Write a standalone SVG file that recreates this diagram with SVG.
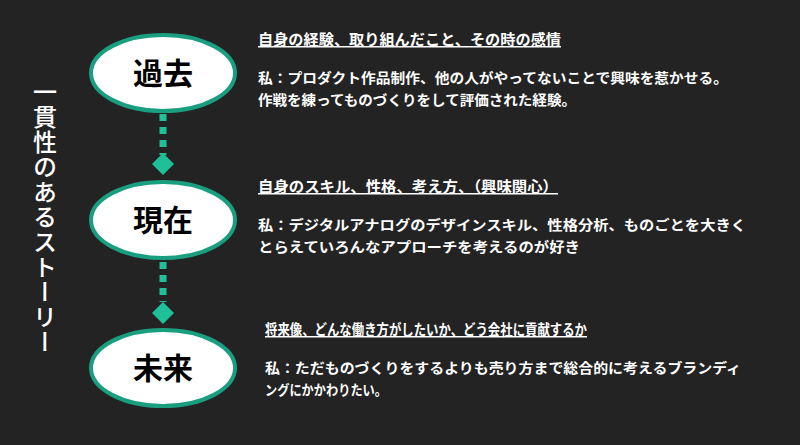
<svg xmlns="http://www.w3.org/2000/svg" width="800" height="445" viewBox="0 0 800 445">
<style>
.n ellipse{fill:#fff;stroke:#1a9e80;stroke-width:4}
.n text{font-family:"Noto Sans CJK JP","Noto Sans",sans-serif;font-size:30px;font-weight:bold;fill:#000;text-anchor:middle}
.h{font-family:"Noto Sans CJK JP",sans-serif;font-size:15px;font-weight:bold;fill:#fff;text-decoration:underline}
.b{font-family:"Noto Sans CJK JP",sans-serif;font-size:14px;font-weight:bold;fill:#fff}
.c line{stroke:#1fbf97;stroke-width:7;stroke-dasharray:7 6}
.c path{fill:#1fbf97}
</style>
<rect width="800" height="445" fill="#232323"/>
<text x="45" y="80" style="writing-mode:vertical-rl;font-family:'Noto Sans CJK JP',sans-serif;font-size:24px;font-weight:500;fill:#fff;letter-spacing:1px">一貫性のあるストーリー</text>
<g class="c">
<line x1="163" y1="114" x2="163" y2="155"/><path d="M163 153 L174 164 L163 175 L152 164Z"/>
<line x1="163" y1="262" x2="163" y2="302"/><path d="M163 302 L174 313 L163 324 L152 313Z"/>
</g>
<g id="kako" class="n"><ellipse cx="163" cy="73" rx="72" ry="38"/><text x="163" y="84">過去</text></g>
<g id="genzai" class="n"><ellipse cx="163" cy="220" rx="72" ry="38"/><text x="163" y="231">現在</text></g>
<g id="mirai" class="n"><ellipse cx="163" cy="368" rx="72" ry="38"/><text x="163" y="379">未来</text></g>
<text class="h" x="258" y="45" textLength="303" lengthAdjust="spacingAndGlyphs">自身の経験、取り組んだこと、その時の感情</text>
<text class="b" x="258" y="83" textLength="470" lengthAdjust="spacingAndGlyphs">私：プロダクト作品制作、他の人がやってないことで興味を惹かせる。</text>
<text class="b" x="258" y="105" textLength="318" lengthAdjust="spacingAndGlyphs">作戦を練ってものづくりをして評価された経験。</text>
<text class="h" x="258" y="192" textLength="300" lengthAdjust="spacingAndGlyphs">自身のスキル、性格、考え方、（興味関心）</text>
<text class="b" x="258" y="230" textLength="488" lengthAdjust="spacingAndGlyphs">私：デジタルアナログのデザインスキル、性格分析、ものごとを大きく</text>
<text class="b" x="258" y="252" textLength="322" lengthAdjust="spacingAndGlyphs">とらえていろんなアプローチを考えるのが好き</text>
<text class="h" x="265" y="335" textLength="322" lengthAdjust="spacingAndGlyphs">将来像、どんな働き方がしたいか、どう会社に貢献するか</text>
<text class="b" x="265" y="373" textLength="476" lengthAdjust="spacingAndGlyphs">私：ただものづくりをするよりも売り方まで総合的に考えるブランディ</text>
<text class="b" x="265" y="395" textLength="122" lengthAdjust="spacingAndGlyphs">ングにかかわりたい。</text>
</svg>
